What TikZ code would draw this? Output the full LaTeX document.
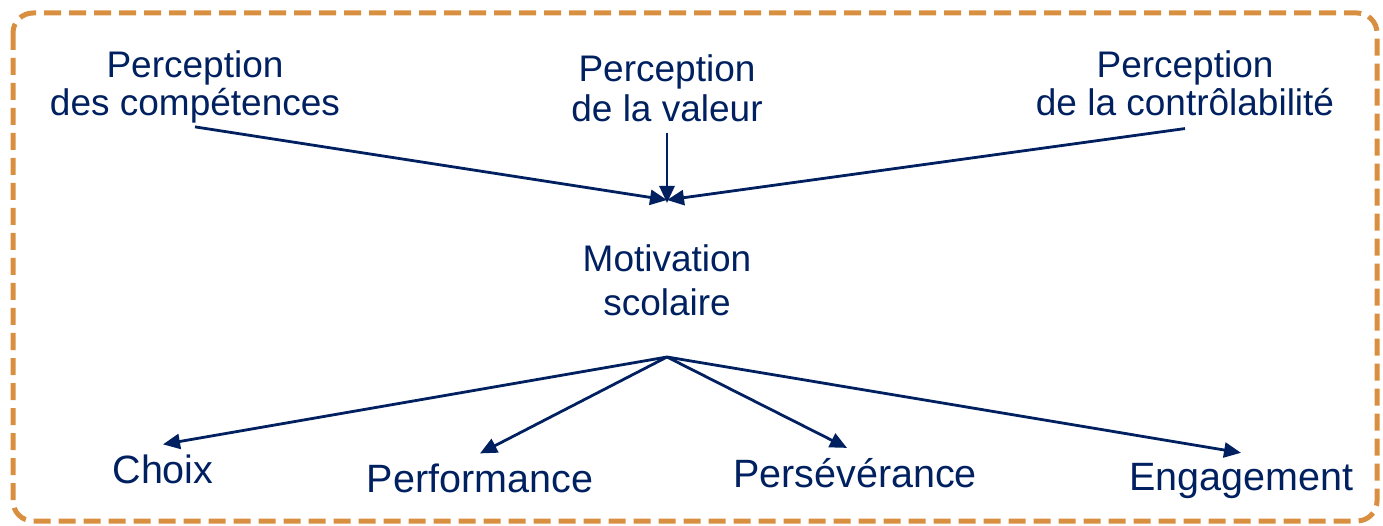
\documentclass[tikz,border=0pt]{standalone}
\usepackage{fontspec}
\setmainfont{Liberation Sans}
\usepackage{tikz}
\usetikzlibrary{arrows.meta}
\definecolor{navy}{RGB}{0,32,96}
\definecolor{frameorange}{RGB}{217,143,64}

\begin{document}
\begin{tikzpicture}[x=1pt,y=-1pt,
							textnode/.style={text=navy, inner sep=0pt, align=center, anchor=base, font=\fontsize{37}{38}\selectfont},
							outnode/.style={text=navy, inner sep=0pt, outer sep=10pt, anchor=base, font=\fontsize{39.5}{40}\selectfont},
							link/.style={draw=navy, line width=2.8pt, -{Triangle[length=17pt,width=15pt]}},
							]
							\useasboundingbox (0,0) rectangle (1383,526);
							%Frame
							\draw[frameorange, line width=5pt, dash pattern=on 17pt off 8pt, rounded corners=20pt] (13,13) rectangle (1377,521);
							%Nodes
							\node[textnode]      (comp) 	at 	(195,116)          {Perception\\des compétences};
							\node[textnode, font=\fontsize{37}{40}\selectfont]      (val) 	at 	(667,122)          {Perception\\de la valeur};
							\node[textnode]      (ctrl) 	at 	(1185,116)         {Perception\\de la contrôlabilité};
							\node[textnode, font=\fontsize{37}{44}\selectfont]      (motiv) 	at 	(667,316)          {Motivation\\scolaire};
							\node[outnode]       (choix) 	at 	(163,483)          {Choix};
							\node[outnode]       (perf) 	at 	(480,492)          {Performance};
							\node[outnode]       (pers) 	at 	(855,487)          {Persévérance};
							\node[outnode]       (eng) 	at 	(1241,490)         {Engagement};
							\coordinate          (intop) 	at 	(667,200);
							\coordinate          (outbot) 	at 	(667,357);
							
							%Lines
							\draw[link] ([yshift=-3pt]comp.south) --  (intop);
							\draw[link] ([yshift=-10pt]val.south) --  ([yshift=-3pt]intop);
							\draw[link] ([yshift=-12pt]ctrl.south) --  (intop);
							\draw[link] (outbot) --  (choix.north);
							\draw[link] (outbot) --  (perf.north);
							\draw[link] (outbot) --  ([xshift=-8pt]pers.north);
							\draw[link] (outbot) --  (eng.north);
						\end{tikzpicture}
\end{document}
